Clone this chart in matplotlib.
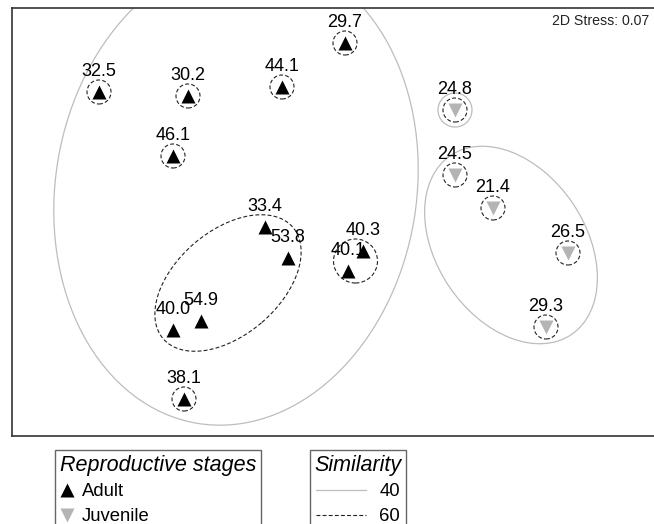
import matplotlib.pyplot as plt
from matplotlib.patches import Ellipse, Circle
from matplotlib.lines import Line2D

plt.rcParams['font.family'] = ['Liberation Sans', 'DejaVu Sans']

# NMDS ordination, labels = sample values
labels = ['29.7', '32.5', '30.2', '44.1', '46.1', '33.4', '53.8', '40.3', '40.1',
          '40.0', '54.9', '38.1', '24.8', '24.5', '21.4', '26.5', '29.3']
stage = ['Adult'] * 12 + ['Juvenile'] * 5
mds_x = [3.33, 0.87, 1.76, 2.70, 1.61, 2.53, 2.76, 3.51, 3.36,
         1.61, 1.89, 1.72, 4.43, 4.43, 4.81, 5.56, 5.34]
mds_y = [3.93, 3.44, 3.40, 3.49, 2.80, 2.09, 1.78, 1.85, 1.65,
         1.06, 1.15, 0.37, 3.26, 2.61, 2.28, 1.83, 1.09]

# 60% similarity singletons (dashed circles) and the 40.3/40.1 pair
singles60 = ['29.7', '32.5', '30.2', '44.1', '46.1', '38.1', '24.8', '24.5', '21.4', '26.5', '29.3']
pair60 = ['40.3', '40.1']
singles40 = ['24.8']

# cluster ellipses: center x, center y, width, height, angle
ell40 = [(2.24, 2.46, 4.73, 3.61, 80.6), (4.99, 1.91, 2.16, 1.49, -56)]
ell60 = [(2.16, 1.53, 1.71, 1.04, 40.7)]

stress = 0.07

fig = plt.figure(figsize=(6.54, 5.24), dpi=100)
ax = fig.add_axes([12 / 654, 88 / 524, 642 / 654, 428 / 524])
ax.set_xlim(0, 6.42)
ax.set_ylim(0, 4.28)
ax.set_xticks([])
ax.set_yticks([])
for s in ['top', 'left', 'bottom']:
    ax.spines[s].set_color('#333333')
    ax.spines[s].set_linewidth(1.2)
ax.spines['right'].set_visible(False)

pos = {lab: (x, y) for lab, x, y in zip(labels, mds_x, mds_y)}
dash = (0, (3.5, 2))

for cx, cy, w, h, a in ell40:
    ax.add_patch(Ellipse((cx, cy), w, h, angle=a, fill=False, ec='#bdbdbd', lw=0.9))
for cx, cy, w, h, a in ell60:
    ax.add_patch(Ellipse((cx, cy), w, h, angle=a, fill=False, ec='#222222', lw=0.8, ls=dash))
for lab in singles40:
    ax.add_patch(Circle(pos[lab], 0.17, fill=False, ec='#bdbdbd', lw=0.9))
for lab in singles60:
    ax.add_patch(Circle(pos[lab], 0.12, fill=False, ec='#222222', lw=0.8, ls=dash))
px = sum(pos[l][0] for l in pair60) / 2
py = sum(pos[l][1] for l in pair60) / 2
ax.add_patch(Circle((px, py), 0.22, fill=False, ec='#222222', lw=0.8, ls=dash))

for lab, x, y in zip(labels, mds_x, mds_y):
    ax.annotate(lab, (x, y), xytext=(0, 15), textcoords='offset points',
                ha='center', va='center', fontsize=13, zorder=3)
for x, y, st in zip(mds_x, mds_y, stage):
    if st == 'Adult':
        ax.plot(x, y, '^', color='black', ms=9.8, mec='none', zorder=4)
    else:
        ax.plot(x, y, 'v', color='#b4b4b4', ms=9.8, mec='none', zorder=4)

ax.text(0.992, 0.97, '2D Stress: %.2f' % stress, transform=ax.transAxes,
        ha='right', va='center', fontsize=10.2, color='#222222')

h1 = [Line2D([], [], marker='^', color='black', ls='none', ms=9.5, mec='none'),
      Line2D([], [], marker='v', color='#b4b4b4', ls='none', ms=9.5, mec='none')]
leg1 = fig.legend(h1, ['Adult', 'Juvenile'], loc='upper left',
                  bbox_to_anchor=(55 / 654, 1 - 450 / 524), borderaxespad=0,
                  title='Reproductive stages', fontsize=13.3, handlelength=0.8,
                  handletextpad=0.4, borderpad=0.25, labelspacing=0.42,
                  alignment='left', fancybox=False, edgecolor='#666666', framealpha=1)
leg1.get_title().set_fontsize(15.5)
leg1.get_title().set_fontstyle('italic')
leg1.get_frame().set_linewidth(1.0)

h2 = [Line2D([], [], color='#bdbdbd', lw=0.9),
      Line2D([], [], color='#222222', lw=0.8, ls=dash)]
leg2 = fig.legend(h2, ['40', '60'], loc='upper left',
                  bbox_to_anchor=(310 / 654, 1 - 450 / 524), borderaxespad=0,
                  title='Similarity', fontsize=13.3, handlelength=2.7,
                  handletextpad=0.7, borderpad=0.25, labelspacing=0.42,
                  fancybox=False, edgecolor='#666666', framealpha=1)
leg2.get_title().set_fontsize(15.5)
leg2.get_title().set_fontstyle('italic')
leg2.get_frame().set_linewidth(1.0)

plt.savefig('out.png', dpi=100)
